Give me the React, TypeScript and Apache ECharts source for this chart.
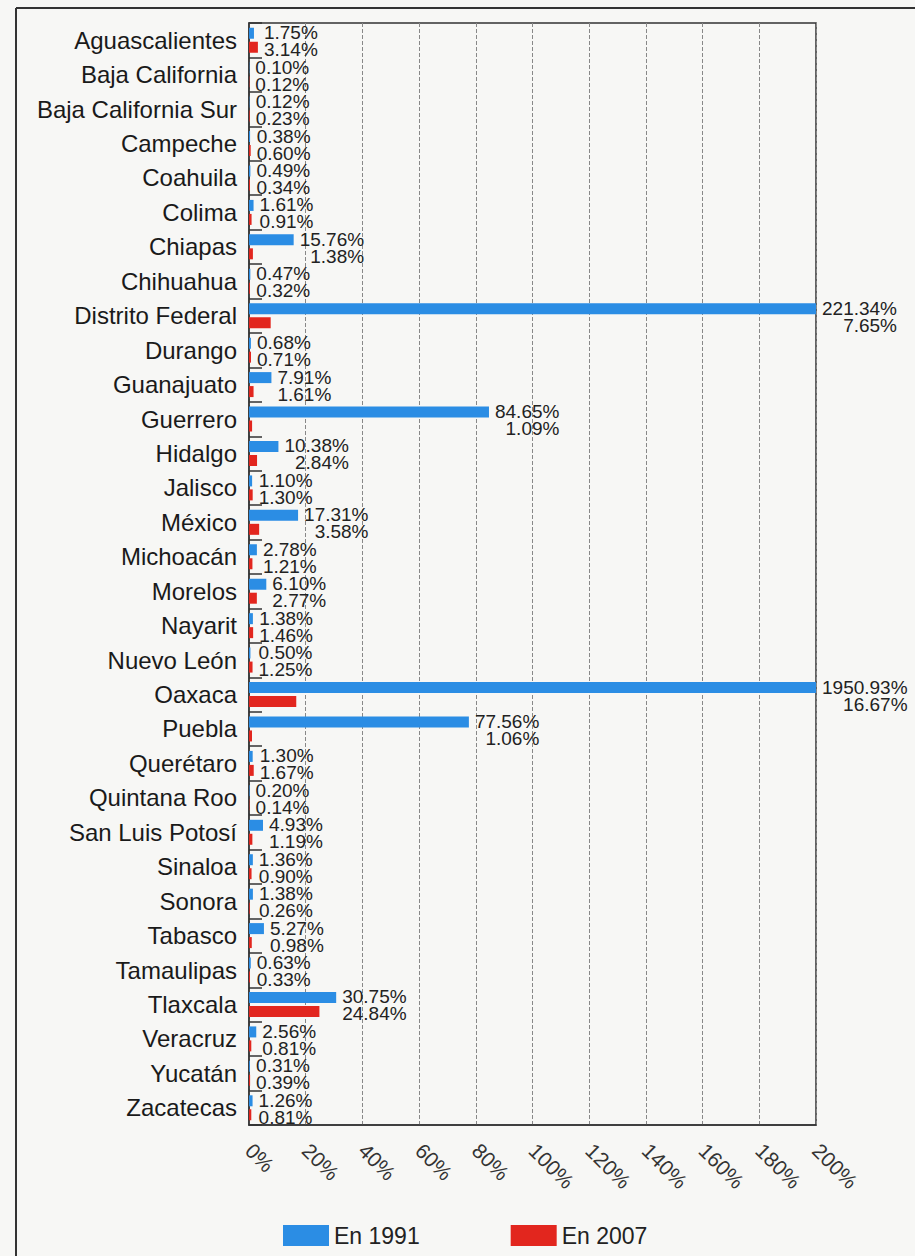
import React, { useEffect, useRef } from "react";
import * as echarts from "echarts";

const categories = [
  "Aguascalientes", "Baja California", "Baja California Sur", "Campeche", "Coahuila",
  "Colima", "Chiapas", "Chihuahua", "Distrito Federal", "Durango", "Guanajuato",
  "Guerrero", "Hidalgo", "Jalisco", "México", "Michoacán", "Morelos", "Nayarit",
  "Nuevo León", "Oaxaca", "Puebla", "Querétaro", "Quintana Roo", "San Luis Potosí",
  "Sinaloa", "Sonora", "Tabasco", "Tamaulipas", "Tlaxcala", "Veracruz", "Yucatán", "Zacatecas",
];

const values1991 = [
  1.75, 0.10, 0.12, 0.38, 0.49, 1.61, 15.76, 0.47, 221.34, 0.68, 7.91,
  84.65, 10.38, 1.10, 17.31, 2.78, 6.10, 1.38, 0.50, 1950.93, 77.56, 1.30,
  0.20, 4.93, 1.36, 1.38, 5.27, 0.63, 30.75, 2.56, 0.31, 1.26,
];

const values2007 = [
  3.14, 0.12, 0.23, 0.60, 0.34, 0.91, 1.38, 0.32, 7.65, 0.71, 1.61,
  1.09, 2.84, 1.30, 3.58, 1.21, 2.77, 1.46, 1.25, 16.67, 1.06, 1.67,
  0.14, 1.19, 0.90, 0.26, 0.98, 0.33, 24.84, 0.81, 0.39, 0.81,
];

const seriesNames = ["En 1991", "En 2007"];
const X_MIN = 0;
const X_MAX = 200;
const X_INTERVAL = 20;

const FONT = "'Liberation Sans', Arial, Helvetica, sans-serif";
const BLUE = "#2b8de4";
const RED = "#e2261e";

export default function App() {
  const ref = useRef<HTMLDivElement>(null);

  useEffect(() => {
    if (!ref.current) return;
    const chart = echarts.init(ref.current, undefined, { renderer: "svg" });
    const fmt = (v: number) => v.toFixed(2) + "%";
    const labelData = categories.map((_, i) => [i, values1991[i], values2007[i]]);

    chart.setOption({
      animation: false,
      backgroundColor: "#f7f7f5",
      textStyle: { fontFamily: FONT },
      grid: {
        left: 249,
        right: 99,
        top: 23,
        bottom: 131,
        show: true,
        borderColor: "#333",
        borderWidth: 1.5,
        containLabel: false,
      },
      legend: {
        data: seriesNames,
        left: 278,
        top: 1219,
        itemWidth: 46,
        itemHeight: 21,
        itemGap: 91,
        icon: "rect",
        textStyle: { fontSize: 23, color: "#222", fontFamily: FONT },
      },
      xAxis: {
        type: "value",
        min: X_MIN,
        max: X_MAX,
        interval: X_INTERVAL,
        axisLine: { show: true, lineStyle: { color: "#333", width: 1.5 } },
        axisTick: { show: false },
        axisLabel: {
          formatter: "{value}%",
          rotate: -45,
          fontSize: 21,
          color: "#333",
          margin: 22,
          fontFamily: FONT,
        },
        splitLine: { show: true, lineStyle: { color: "#888", type: "dashed", width: 1 } },
      },
      yAxis: {
        type: "category",
        data: categories,
        inverse: true,
        axisLine: { show: true, lineStyle: { color: "#333", width: 1.5 } },
        axisTick: { show: true, inside: true, length: 13, lineStyle: { color: "#333", width: 1.5 } },
        axisLabel: { fontSize: 24, color: "#1a1a1a", margin: 12, fontFamily: FONT },
        splitLine: { show: false },
      },
      series: [
        {
          name: seriesNames[0],
          type: "bar",
          data: values1991,
          barWidth: 11,
          barGap: "27%",
          itemStyle: { color: BLUE },
          clip: true,
        },
        {
          name: seriesNames[1],
          type: "bar",
          data: values2007,
          barWidth: 11,
          barGap: "27%",
          itemStyle: { color: RED },
          clip: true,
        },
        {
          type: "custom",
          name: "labels",
          data: labelData,
          encode: { y: 0, x: 1 },
          clip: false,
          z: 10,
          silent: true,
          renderItem: (params: any, api: any) => {
            const ci = api.value(0);
            const a = api.value(1);
            const b = api.value(2);
            const end = Math.min(Math.max(a, b), X_MAX);
            const p = api.coord([end, ci]);
            return {
              type: "text",
              x: p[0] + 6,
              y: p[1] + 1,
              style: {
                text: `{r|${fmt(a)}}\n{r|${fmt(b)}}`,
                align: "left",
                verticalAlign: "middle",
                fill: "#222",
                rich: {
                  r: {
                    align: "right",
                    fontSize: 19,
                    lineHeight: 17,
                    fontFamily: FONT,
                    fill: "#222",
                    color: "#222",
                  },
                },
              },
            };
          },
        },
      ],
      graphic: [
        {
          type: "line",
          shape: { x1: 16, y1: 8, x2: 915, y2: 8 },
          style: { stroke: "#333", lineWidth: 2 },
        },
        {
          type: "line",
          shape: { x1: 16, y1: 8, x2: 16, y2: 1256 },
          style: { stroke: "#333", lineWidth: 2 },
        },
      ],
    });

    return () => chart.dispose();
  }, []);

  return (
    <div
      ref={ref}
      style={{ position: "absolute", left: 0, top: 0, width: 915, height: 1256 }}
    />
  );
}
